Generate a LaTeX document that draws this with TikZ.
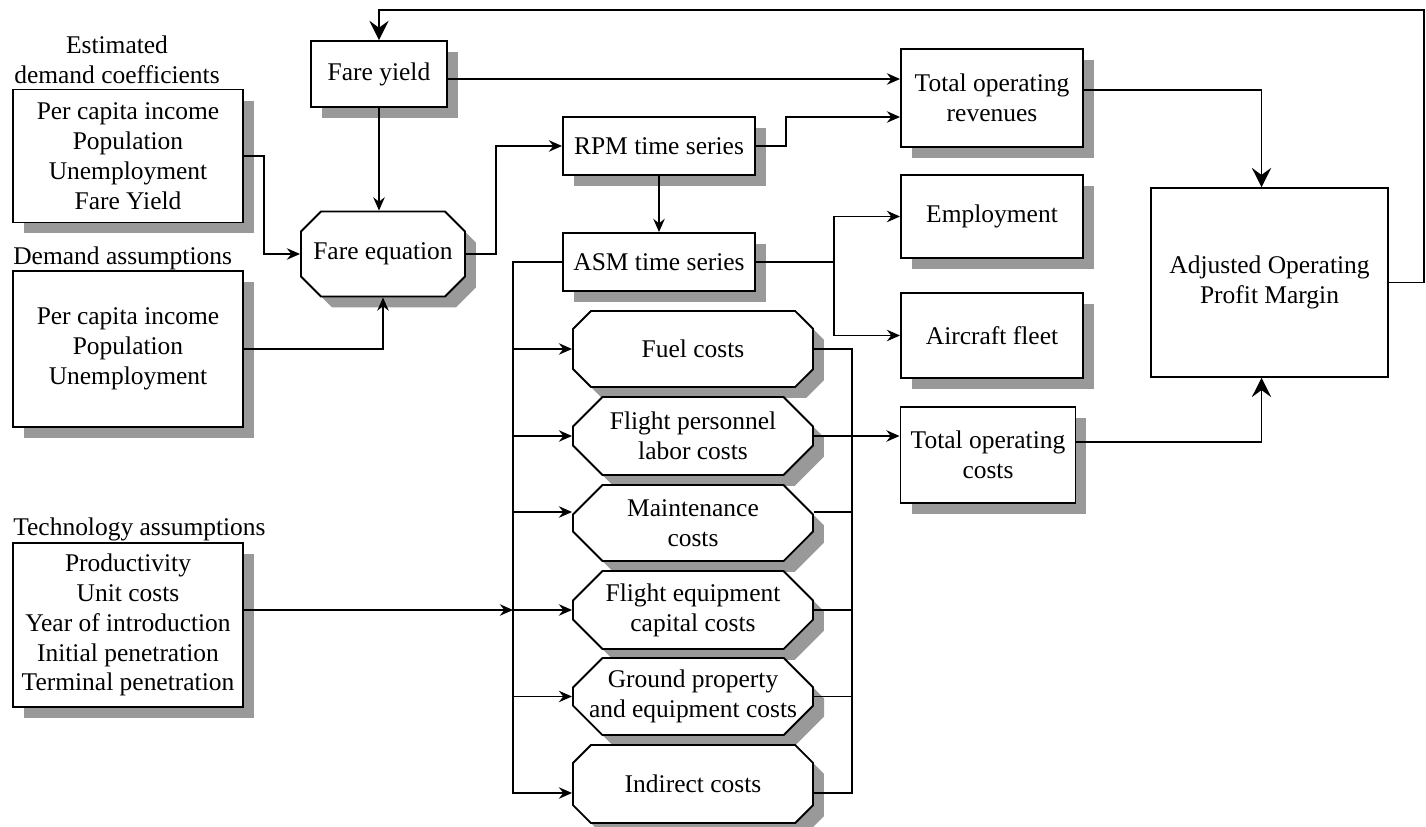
\documentclass[tikz,border=0pt]{standalone}
\usepackage{fontspec}
\setmainfont{Liberation Serif}
\usepackage{tikz}
\usetikzlibrary{arrows.meta,positioning,calc,shapes.misc,shadows}
\definecolor{shadowGray}{HTML}{999999}

\begin{document}
\begin{tikzpicture}[x=0.02cm, y=-0.02cm,
    every node/.style={font=\fontsize{14.5}{17}\selectfont, align=center},
    flow/.style={line width=1.1pt, -{Stealth[length=7.5pt, width=6.5pt, inset=2.5pt]}},
    bigflow/.style={line width=1.1pt, -{Stealth[length=11pt, width=11pt, inset=4pt]}},
    wire/.style={line width=1.1pt},
    shadowed/.style={drop shadow={shadow xshift=0.22cm, shadow yshift=-0.22cm, fill=shadowGray, opacity=1}},
    databox/.style={rectangle, draw, line width=1.1pt, fill=white, inner sep=2pt, shadowed},
    calcbox/.style={chamfered rectangle, chamfered rectangle xsep=0.48cm, draw, line width=1.1pt, fill=white, inner xsep=-0.16cm, inner ysep=2pt, minimum width=4.8cm, shadowed},
    heading/.style={inner sep=0pt}]
  \useasboundingbox (0,0) rectangle (1426,827);

  % inputs
  \node[databox, minimum width=4.6cm, minimum height=2.66cm] (estcoef) at (128,156) {Per capita income\\Population\\Unemployment\\Fare Yield};
  \node[heading, anchor=south] (estlbl) at (117,84) {Estimated\\demand coefficients};
  \node[databox, minimum width=4.6cm, minimum height=3.12cm] (demass) at (128,349) {Per capita income\\Population\\Unemployment};
  \node[heading, anchor=base west] (demlbl) at (13,265) {Demand assumptions};
  \node[databox, minimum width=4.6cm, minimum height=3.28cm] (tech) at (128,625) {Productivity\\Unit costs\\Year of introduction\\Initial penetration\\Terminal penetration};
  \node[heading, anchor=base west] (techlbl) at (13,535) {Technology assumptions};

  % traffic
  \node[databox, minimum width=2.72cm, minimum height=1.32cm] (fareyield) at (379,74) {Fare yield};
  \node[calcbox, chamfered rectangle xsep=0.56cm, minimum width=3.28cm, minimum height=1.7cm] (fareeq) at (383,254) {Fare equation};
  \node[databox, minimum width=3.84cm, minimum height=1.16cm] (rpm) at (659,146) {RPM time series};
  \node[databox, minimum width=3.84cm, minimum height=1.16cm] (asm) at (659,262) {ASM time series};

  % cost blocks
  \node[calcbox, minimum height=1.52cm] (fuel) at (693,349) {Fuel costs};
  \node[calcbox, minimum height=1.56cm] (pers) at (693,436) {Flight personnel\\labor costs};
  \node[calcbox, minimum height=1.52cm] (maint) at (693,523) {Maintenance\\costs};
  \node[calcbox, minimum height=1.56cm] (equip) at (693,610) {Flight equipment\\capital costs};
  \node[calcbox, minimum height=1.54cm] (ground) at (693,696.5) {Ground property\\and equipment costs};
  \node[calcbox, minimum height=1.56cm] (indir) at (693,784) {Indirect costs};

  % outputs
  \node[databox, minimum width=3.64cm, minimum height=1.96cm] (tor) at (992,98) {Total operating\\revenues};
  \node[databox, minimum width=3.64cm, minimum height=1.66cm] (employ) at (992,216.5) {Employment};
  \node[databox, minimum width=3.64cm, minimum height=1.7cm] (fleet) at (992,335.5) {Aircraft fleet};
  \node[databox, minimum width=3.5cm, minimum height=1.92cm] (toc) at (988,455) {Total operating\\costs};
  \node[rectangle, draw, line width=0.9pt, fill=white, minimum width=4.74cm, minimum height=3.78cm] (aopm) at (1269.5,282.5) {Adjusted Operating\\Profit Margin};

  % connectors
  \coordinate (loopR) at (1424,10);
  \draw[bigflow, line width=0.9pt] (aopm.east) -| (loopR) -| (fareyield.north);
  \coordinate (torInA) at ($(tor.west)+(0,-19)$);
  \coordinate (torInB) at ($(tor.west)+(0,19)$);
  \draw[flow] (fareyield.east |- torInA) -- (torInA);
  \draw[flow] (fareyield.south) -- (fareyield.south |- fareeq.north);
  \draw[flow] (estcoef.east) -- ++(20,0) |- (fareeq.west);
  \draw[flow] (demass.east) -| (fareeq.south);
  \draw[flow] (fareeq.east) -- ++(30,0) |- (rpm.west);
  \draw[flow] (rpm.east) -- ++(30,0) |- (torInB);
  \draw[flow] (rpm) -- (asm);
  \draw[flow] (asm.east) -- ++(78,0) coordinate (fleetSplit) |- (employ.west);
  \draw[flow] (fleetSplit) |- (fleet.west);

  % ASM feeds every cost block
  \coordinate (busTop) at ($(asm.west)+(-49,0)$);
  \coordinate (indirIn) at ($(indir.west)+(0,9)$);
  \coordinate (maintIn) at ($(maint.west)+(0,-11)$);
  \draw[flow] (asm.west) -- (busTop) |- (indirIn);
  \foreach \n in {fuel,pers,equip,ground}
    \draw[flow] (busTop |- \n.west) -- (\n.west);
  \draw[flow] (busTop |- maintIn) -- (maintIn);
  \draw[flow] (tech.east |- equip.west) -- (busTop |- equip.west);

  % costs collected into total operating costs
  \coordinate (busRight) at ($(fuel.east)+(38,0)$);
  \coordinate (maintOut) at ($(maint.east)+(0,-11)$);
  \coordinate (indirOut) at ($(indir.east)+(0,9)$);
  \draw[wire] (fuel.east) -- (busRight) |- (indirOut);
  \foreach \p in {maintOut,equip.east,ground.east}
    \draw[wire] (\p) -- (busRight |- \p);
  \draw[flow] (pers.east) -- (pers.east -| toc.west);

  \coordinate (torOut) at ($(tor.east)+(0,-8)$);
  \coordinate (tocOut) at ($(toc.east)+(0,-13)$);
  \coordinate (aopmTop) at ($(aopm.north)+(-8,0)$);
  \coordinate (aopmBot) at ($(aopm.south)+(-8,0)$);
  \draw[bigflow] (torOut) -| (aopmTop);
  \draw[bigflow] (tocOut) -| (aopmBot);
\end{tikzpicture}
\end{document}
